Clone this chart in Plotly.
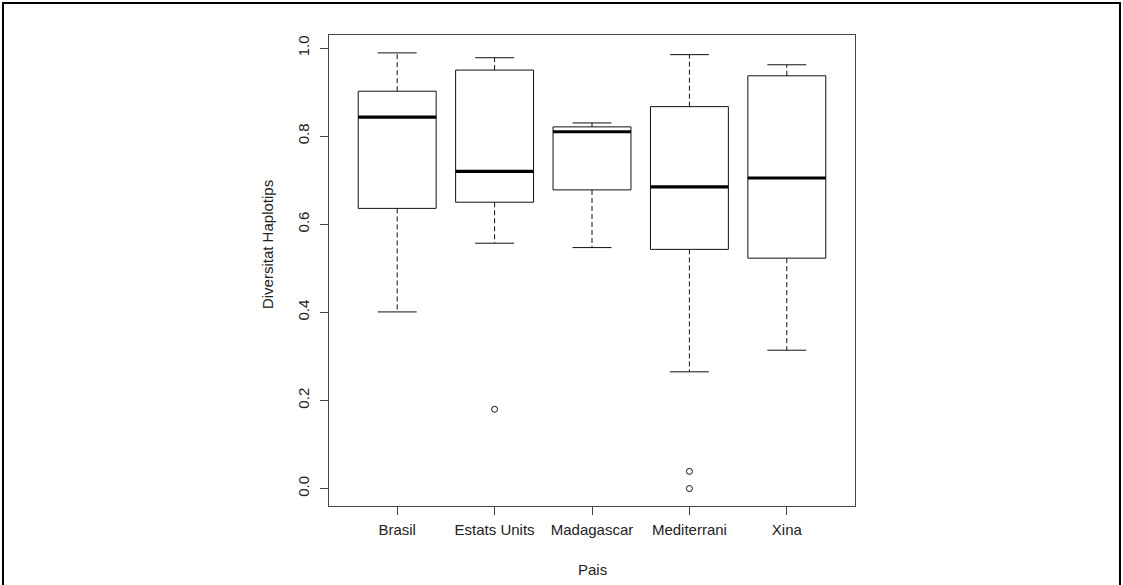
import plotly.graph_objects as go

# Haplotype diversity summary per country (five-number summaries + outliers)
categories = ["Brasil", "Estats Units", "Madagascar", "Mediterrani", "Xina"]
lower_whisker = [0.401, 0.557, 0.547, 0.265, 0.314]
q1 = [0.636, 0.650, 0.678, 0.543, 0.523]
median = [0.843, 0.720, 0.810, 0.685, 0.705]
q3 = [0.902, 0.950, 0.821, 0.867, 0.937]
upper_whisker = [0.989, 0.978, 0.830, 0.985, 0.962]
outlier_groups = ["Estats Units", "Mediterrani", "Mediterrani"]
outlier_values = [0.180, 0.039, 0.0]
y_ticks = [0.0, 0.2, 0.4, 0.6, 0.8, 1.0]

FONT = "Arial, Liberation Sans, sans-serif"
INK = "#111111"
AXIS = "#444444"
BOX_HALF = 0.4
CAP_HALF = 0.2

pos = {c: i + 1 for i, c in enumerate(categories)}

box_x, box_y = [], []
med_x, med_y = [], []
wh_x, wh_y = [], []
cap_x, cap_y = [], []
for c, lo, a, m, b, hi in zip(categories, lower_whisker, q1, median, q3, upper_whisker):
    p = pos[c]
    box_x += [p - BOX_HALF, p + BOX_HALF, p + BOX_HALF, p - BOX_HALF, p - BOX_HALF, None]
    box_y += [a, a, b, b, a, None]
    med_x += [p - BOX_HALF, p + BOX_HALF, None]
    med_y += [m, m, None]
    wh_x += [p, p, None, p, p, None]
    wh_y += [b, hi, None, a, lo, None]
    cap_x += [p - CAP_HALF, p + CAP_HALF, None, p - CAP_HALF, p + CAP_HALF, None]
    cap_y += [hi, hi, None, lo, lo, None]

fig = go.Figure()
fig.add_trace(go.Scatter(x=wh_x, y=wh_y, mode="lines",
                         line=dict(color=INK, width=1, dash="5px,3px"), hoverinfo="skip"))
fig.add_trace(go.Scatter(x=cap_x, y=cap_y, mode="lines",
                         line=dict(color=INK, width=1), hoverinfo="skip"))
fig.add_trace(go.Scatter(x=box_x, y=box_y, mode="lines",
                         line=dict(color=INK, width=1), hoverinfo="skip"))
fig.add_trace(go.Scatter(x=med_x, y=med_y, mode="lines",
                         line=dict(color="#000000", width=3.2), hoverinfo="skip"))
fig.add_trace(go.Scatter(x=[pos[g] for g in outlier_groups], y=outlier_values, mode="markers",
                         marker=dict(symbol="circle-open", size=6, color=INK, line=dict(width=1))))

fig.update_layout(
    width=1123, height=585,
    margin=dict(l=329, r=268, t=35, b=79),
    paper_bgcolor="white", plot_bgcolor="white",
    showlegend=False,
    font=dict(family=FONT, size=15, color="#222222"),
)
fig.update_xaxes(
    range=[0.3, 5.7], tickvals=[pos[c] for c in categories], ticktext=categories,
    showline=True, mirror=True, linecolor=AXIS, linewidth=1.2,
    ticks="outside", ticklen=8, tickcolor=AXIS, showgrid=False, zeroline=False,
    tickfont=dict(size=15), ticklabelstandoff=2,
)
fig.update_yaxes(
    range=[-0.0396, 1.0296], tickvals=y_ticks, ticktext=[f"{v:.1f}" for v in y_ticks],
    tickangle=-90, showline=True, mirror=True, linecolor=AXIS, linewidth=1.2,
    ticks="outside", ticklen=8, tickcolor=AXIS, showgrid=False, zeroline=False,
    tickfont=dict(size=15), ticklabelstandoff=5,
)

fig.add_annotation(text="Diversitat Haplotips", xref="paper", yref="paper",
                   x=-0.118, y=0.556, xanchor="center", yanchor="middle",
                   textangle=-90, showarrow=False, font=dict(size=15))
fig.add_annotation(text="Pais", xref="paper", yref="paper",
                   x=0.5, y=-0.134, xanchor="center", yanchor="middle",
                   showarrow=False, font=dict(size=15))

# Outer figure frame
fig.add_shape(type="rect", xref="paper", yref="paper",
              x0=-0.6198, x1=1.5038, y0=-0.2, y1=1.068,
              line=dict(color="black", width=2), layer="above")

fig.write_html("out.html")
